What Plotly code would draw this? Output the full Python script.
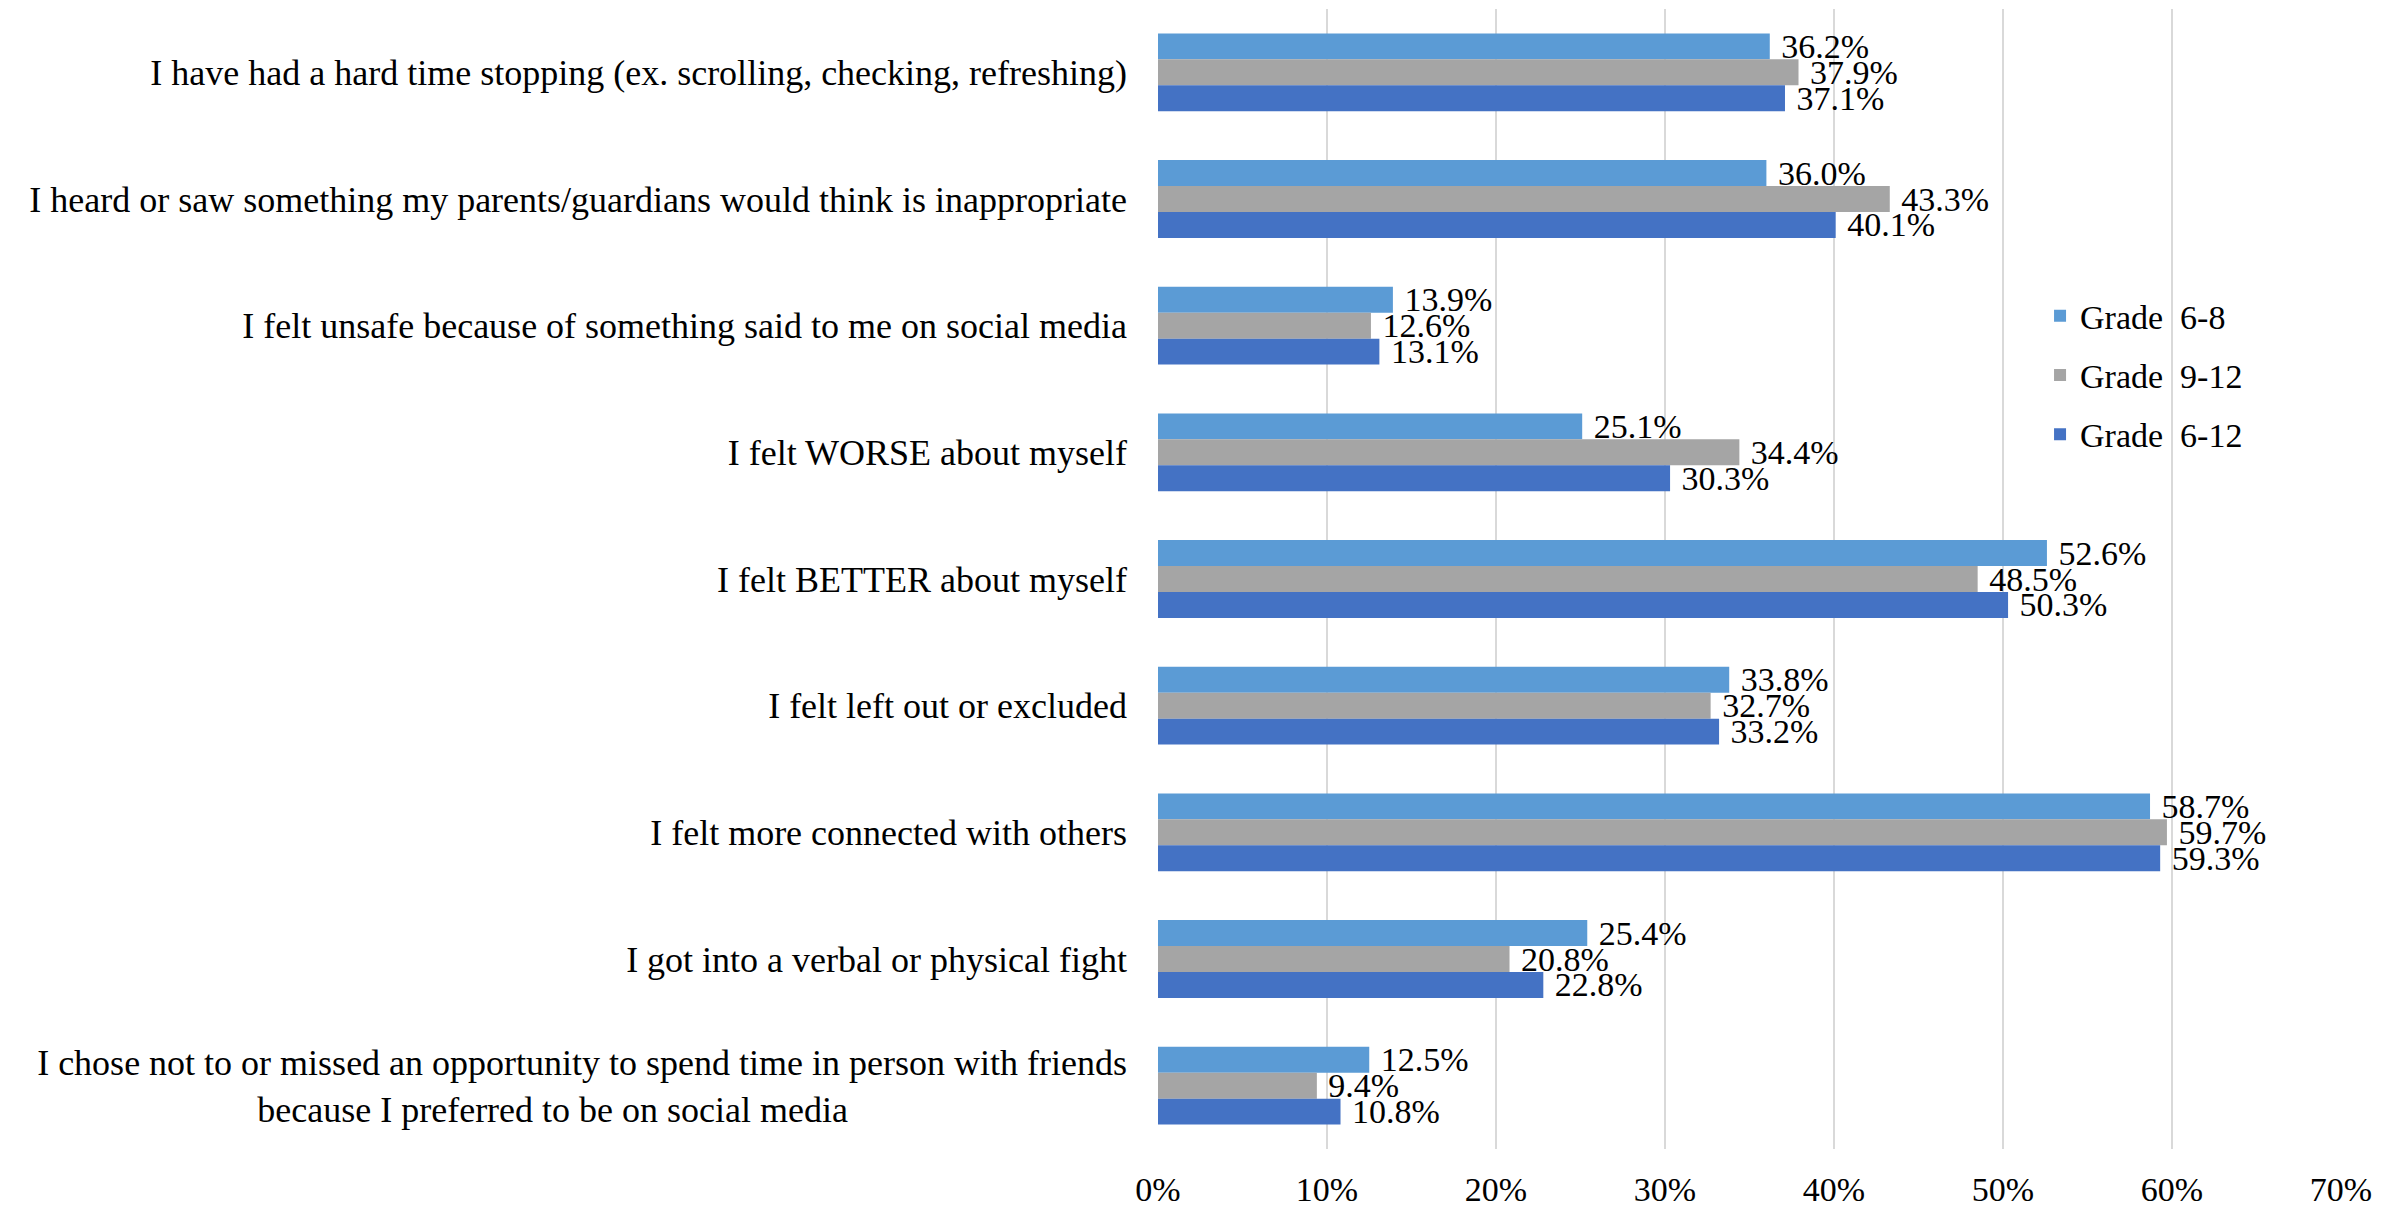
import plotly.graph_objects as go

NB = "\u00a0"
categories = [
    "I have had a hard time stopping (ex. scrolling, checking, refreshing)",
    "I heard or saw something my parents/guardians would think is inappropriate",
    "I felt unsafe because of something said to me on social media",
    "I felt WORSE about myself",
    "I felt BETTER about myself",
    "I felt left out or excluded",
    "I felt more connected with others",
    "I got into a verbal or physical fight",
    "I chose not to or missed an opportunity to spend time in person with friends<br>because I preferred to be on social media" + NB * 31,
]
series_names = ["Grade" + NB * 2 + "6-8", "Grade" + NB * 2 + "9-12", "Grade" + NB * 2 + "6-12"]
grade_6_8 = [36.2, 36.0, 13.9, 25.1, 52.6, 33.8, 58.7, 25.4, 12.5]
grade_9_12 = [37.9, 43.3, 12.6, 34.4, 48.5, 32.7, 59.7, 20.8, 9.4]
grade_6_12 = [37.1, 40.1, 13.1, 30.3, 50.3, 33.2, 59.3, 22.8, 10.8]
colors = ["#5B9BD5", "#A5A5A5", "#4472C4"]
x_ticks = [0, 10, 20, 30, 40, 50, 60, 70]

FONT = "Liberation Serif"
FS = 34

fig = go.Figure()
for i, (name, vals) in enumerate(zip(series_names, [grade_6_8, grade_9_12, grade_6_12])):
    fig.add_trace(go.Bar(
        y=categories, x=vals, name=name, orientation="h",
        marker=dict(color=colors[i], line=dict(width=0)),
        text=vals, texttemplate=NB + "%{x:.1f}%", textposition="outside",
        constraintext="none", cliponaxis=False,
        textfont=dict(family=FONT, size=FS, color="#000000"),
        legendgroup=f"g{i}",
    ))

fig.update_layout(
    width=2386, height=1199,
    barmode="group", bargap=0.385, bargroupgap=0,
    plot_bgcolor="white", paper_bgcolor="white",
    margin=dict(l=1150, r=53, t=1, b=58, autoexpand=False),
    font=dict(family=FONT, size=FS, color="#000000"),
    legend=dict(
        x=0.7456, y=0.756, xanchor="left", yanchor="top",
        bgcolor="rgba(0,0,0,0)", traceorder="grouped", tracegroupgap=12,
        font=dict(family=FONT, size=FS, color="#000000"),
    ),
    showlegend=True,
)
fig.update_xaxes(
    range=[0, 70], tickvals=x_ticks, ticktext=[f"{v}%" for v in x_ticks],
    showgrid=True, gridcolor="#D9D9D9", gridwidth=2,
    zeroline=False, showline=False, ticks="", ticklabelstandoff=17,
    tickfont=dict(family=FONT, size=FS, color="#000000"),
)
fig.update_yaxes(
    autorange="reversed", showgrid=False, zeroline=False, showline=False,
    ticks="", ticklabelstandoff=30,
    tickfont=dict(family=FONT, size=36, color="#000000"),
)

fig.write_html("out.html")
